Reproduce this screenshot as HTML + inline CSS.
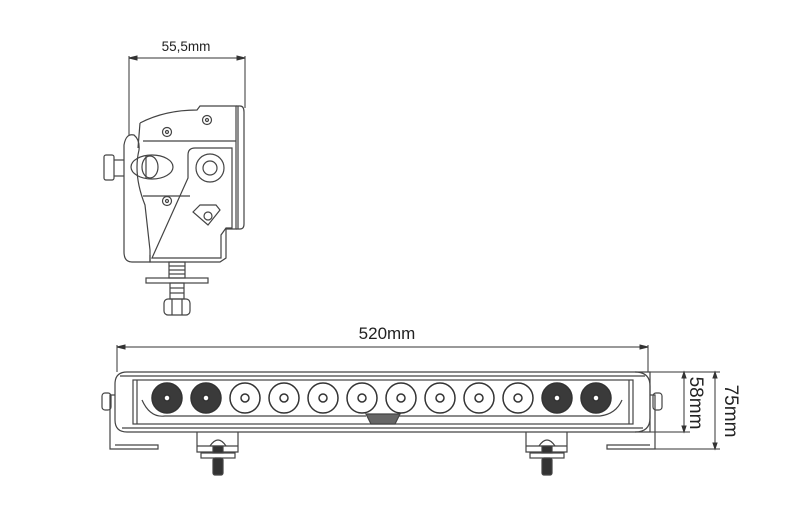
<!DOCTYPE html>
<html><head><meta charset="utf-8"><style>
html,body{margin:0;padding:0;background:#fff;}
svg{display:block;}
text{font-family:"Liberation Sans",sans-serif;fill:#222;}
</style></head><body>
<svg width="800" height="510" viewBox="0 0 800 510" xmlns="http://www.w3.org/2000/svg">
<rect width="800" height="510" fill="#fff"/>
<g stroke="#333" fill="none" stroke-width="1">
<line x1="129" y1="56" x2="129" y2="135"/>
<line x1="245" y1="56" x2="245" y2="108"/>
<line x1="129" y1="58" x2="245" y2="58"/>
<path d="M129 58 l8 -2 v4z M245 58 l-8 -2 v4z" fill="#333"/>
</g>
<text x="186" y="51" font-size="13.5" text-anchor="middle">55,5mm</text>

<g stroke="#444" fill="none" stroke-width="1.2">
<rect x="104" y="155" width="10" height="25" rx="2"/>
<line x1="114" y1="160" x2="124" y2="160"/><line x1="114" y1="176" x2="124" y2="176"/>
<path d="M124 145 Q126 133 134 135 Q140 140 139 150 Q133 175 145 205 L150 250 V262 H132 Q124 262 124 252 Z"/>
<path d="M140 123 Q165 110 197 110 L200 106 H236 V229 H226 V258 L220 262 H150 V255"/>
<path d="M236 106 H240 Q244 106 244 112 V224 Q244 229 240 229 H236"/>
<line x1="238" y1="106" x2="238" y2="229"/>
<path d="M140 123 L138 148"/>
<line x1="143" y1="141" x2="236" y2="141"/>
<line x1="143" y1="196" x2="190" y2="196"/>
<path d="M188 155 Q188 148 195 148 H232 V228 H226 L221 235 V258 H152 L188 178 Z"/>
<ellipse cx="152" cy="167" rx="21" ry="12"/>
<ellipse cx="150" cy="167" rx="8" ry="11"/>
<line x1="146" y1="156" x2="146" y2="178"/>
<circle cx="210" cy="168" r="14"/>
<circle cx="210" cy="168" r="7"/>
<path d="M193 212 L200 205 H216 L220 210 L208 225 Z"/>
<circle cx="208" cy="216" r="4"/>
<circle cx="167" cy="132" r="4.5"/><circle cx="167" cy="132" r="1.5"/>
<circle cx="207" cy="120" r="4.5"/><circle cx="207" cy="120" r="1.5"/>
<circle cx="167" cy="201" r="4.5"/><circle cx="167" cy="201" r="1.5"/>
<rect x="169" y="262" width="16" height="16"/>
<line x1="169" y1="266" x2="185" y2="266"/><line x1="169" y1="270" x2="185" y2="270"/><line x1="169" y1="274" x2="185" y2="274"/>
<rect x="146" y="278" width="62" height="5"/>
<rect x="170" y="283" width="14" height="16"/>
<line x1="170" y1="288" x2="184" y2="288"/><line x1="170" y1="293" x2="184" y2="293"/>
<rect x="164" y="299" width="26" height="16" rx="4"/>
<line x1="172" y1="299" x2="172" y2="315"/><line x1="182" y1="299" x2="182" y2="315"/>
</g>

<g stroke="#333" fill="none" stroke-width="1">
<line x1="117" y1="347" x2="648" y2="347"/>
<line x1="117" y1="345" x2="117" y2="372"/>
<line x1="648" y1="345" x2="648" y2="372"/>
<path d="M117 347 l8 -2 v4z M648 347 l-8 -2 v4z" fill="#333"/>
<line x1="640" y1="372" x2="720" y2="372"/>
<line x1="650" y1="432" x2="690" y2="432"/>
<line x1="655" y1="449" x2="720" y2="449"/>
<line x1="684" y1="372" x2="684" y2="432"/>
<line x1="715" y1="372" x2="715" y2="449"/>
<path d="M684 372 l-2 6 h4z M684 432 l-2 -6 h4z M715 372 l-2 6 h4z M715 449 l-2 -6 h4z" fill="#333"/>
</g>
<text x="387" y="339" font-size="17" text-anchor="middle">520mm</text>
<text transform="translate(690,403) rotate(90)" font-size="19" text-anchor="middle">58mm</text>
<text transform="translate(725,411) rotate(90)" font-size="19" text-anchor="middle">75mm</text>

<g stroke="#444" fill="none" stroke-width="1.2">
<path d="M115 395 H110 V449 H158 V445 H115"/>
<rect x="102" y="393" width="9" height="17" rx="3"/>
<path d="M650 395 H655 V449 H607 V445 H650"/>
<rect x="653" y="393" width="9" height="17" rx="3"/>
<path d="M127 372 H650 V432 H127 Q115 432 115 420 V384 Q115 372 127 372 Z"/>
<path d="M635 372 Q650 372 650 386 V418 Q650 432 635 432"/>
<line x1="120" y1="376" x2="645" y2="376"/>
<line x1="122" y1="428" x2="643" y2="428"/>
<rect x="133" y="380" width="500" height="44"/>
<line x1="137" y1="380" x2="137" y2="424"/>
<line x1="629" y1="380" x2="629" y2="424"/>
<path d="M142 400 Q150 418 165 416 H366"/>
<path d="M399 416 H600 Q616 414 622 400"/>
<path d="M366 414 H400 L395 424 H371 Z" fill="#666"/>
<path d="M197 432 V452 H238 V432"/>
<line x1="197" y1="446" x2="238" y2="446"/>
<path d="M210 446 Q218 434 226 446"/>
<rect x="201" y="453" width="34" height="5"/>
<rect x="213" y="446" width="10" height="7" fill="#333"/>
<rect x="213" y="458" width="10" height="17" rx="2" fill="#333"/>
<path d="M526 432 V452 H567 V432"/>
<line x1="526" y1="446" x2="567" y2="446"/>
<path d="M539 446 Q547 434 555 446"/>
<rect x="530" y="453" width="34" height="5"/>
<rect x="542" y="446" width="10" height="7" fill="#333"/>
<rect x="542" y="458" width="10" height="17" rx="2" fill="#333"/>
</g>
<g stroke="#333" stroke-width="1.5">
<circle cx="167" cy="398" r="15" fill="#3a3a3a"/><circle cx="167" cy="398" r="3" fill="#fff"/>
<circle cx="206" cy="398" r="15" fill="#3a3a3a"/><circle cx="206" cy="398" r="3" fill="#fff"/>
<circle cx="245" cy="398" r="15" fill="#fff"/><circle cx="245" cy="398" r="4" fill="#fff"/>
<circle cx="284" cy="398" r="15" fill="#fff"/><circle cx="284" cy="398" r="4" fill="#fff"/>
<circle cx="323" cy="398" r="15" fill="#fff"/><circle cx="323" cy="398" r="4" fill="#fff"/>
<circle cx="362" cy="398" r="15" fill="#fff"/><circle cx="362" cy="398" r="4" fill="#fff"/>
<circle cx="401" cy="398" r="15" fill="#fff"/><circle cx="401" cy="398" r="4" fill="#fff"/>
<circle cx="440" cy="398" r="15" fill="#fff"/><circle cx="440" cy="398" r="4" fill="#fff"/>
<circle cx="479" cy="398" r="15" fill="#fff"/><circle cx="479" cy="398" r="4" fill="#fff"/>
<circle cx="518" cy="398" r="15" fill="#fff"/><circle cx="518" cy="398" r="4" fill="#fff"/>
<circle cx="557" cy="398" r="15" fill="#3a3a3a"/><circle cx="557" cy="398" r="3" fill="#fff"/>
<circle cx="596" cy="398" r="15" fill="#3a3a3a"/><circle cx="596" cy="398" r="3" fill="#fff"/>
</g>
</svg>
</body></html>
